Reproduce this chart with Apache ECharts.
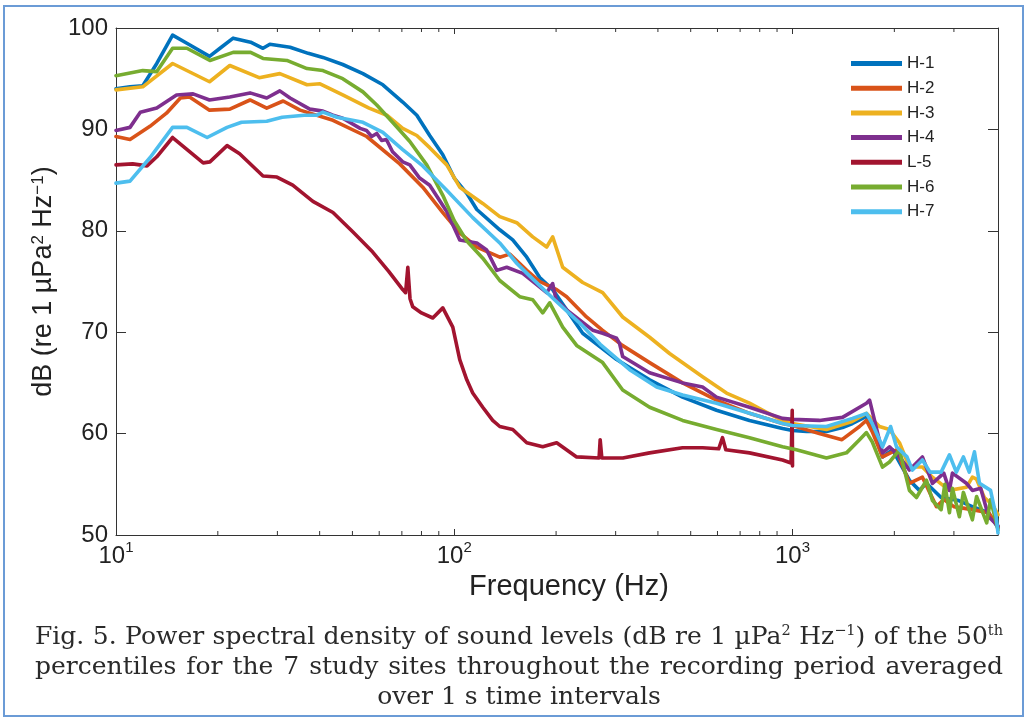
<!DOCTYPE html>
<html>
<head>
<meta charset="utf-8">
<title>PSD</title>
<script src="https://cdn.jsdelivr.net/npm/echarts@6/dist/echarts.min.js"></script>
<style>
  html, body { margin: 0; padding: 0; background: #fff; }
  #wrap { position: relative; width: 1027px; height: 719px; }
  #main { position: absolute; left: 0; top: 0; width: 1027px; height: 719px; }
  #caption {
    position: absolute; left: 35px; top: 621px; width: 968px;
    font-family: 'DejaVu Serif', 'Liberation Serif', serif; font-size: 25px; line-height: 30px;
    color: #2a2a2a;
  }
  #caption .jl { text-align: justify; text-align-last: justify; height: 30px; }
  #caption .cl { text-align: center; height: 30px; }
  #caption sup { font-size: 0.58em; line-height: 0; vertical-align: 0.6em; }
</style>
</head>
<body>
<div id="wrap">
  <div id="main"></div>
  <div id="caption">
    <div class="jl">Fig. 5. Power spectral density of sound levels (dB re 1 µPa<sup>2</sup> Hz<sup>−1</sup>) of the 50<sup>th</sup></div>
    <div class="jl">percentiles for the 7 study sites throughout the recording period averaged</div>
    <div class="cl">over 1 s time intervals</div>
  </div>
</div>
<script>
// site names + colours (matlab default order)
const siteNames = ['H-1', 'H-2', 'H-3', 'H-4', 'L-5', 'H-6', 'H-7'];
const siteColors = ['#0072BD', '#D95319', '#EDB120', '#7E2F8E', '#A2142F', '#77AC30', '#4DBEEE'];

// [frequency Hz, dB]
const h1 = [[10,94.0],[11,94.2],[12,94.3],[13.2,96.5],[14.7,99.3],[16.2,98.5],[18.9,97.2],[20.3,98.0],[22.2,99.0],[25,98.6],[27.2,98.0],[28.5,98.4],[32.7,98.1],[37,97.5],[40.9,97.1],[46.8,96.4],[53.7,95.5],[61.5,94.4],[70.4,92.7],[77.5,91.4],[84.6,89.4],[92.5,87.5],[100,85.2],[108.9,83.7],[116.6,82.1],[136.3,80.1],[148.9,79.1],[163.8,77.4],[178.9,75.4],[195.4,74.2],[214.9,72.2],[239.7,69.9],[302,67.3],[378,65.3],[473,63.6],[596,62.3],[746,61.3],[934,60.5],[1000,60.3],[1100,60.2],[1260,60.2],[1405,60.6],[1504,61.0],[1654,61.7],[1720,60.8],[1845,57.7],[1975,58.4],[2216,55.4],[2372,54.4],[2489,55.1],[2750,53.7],[3100,53.4],[3400,52.8],[3800,52.2],[4050,50.7]];
const h2 = [[10,89.3],[11,89.0],[12.6,90.3],[14.1,91.6],[15.5,93.1],[16.5,93.2],[18.9,91.9],[21.7,92.0],[24.9,92.9],[27.9,92.1],[31.2,92.8],[35,91.9],[43.8,90.9],[55.1,89.3],[69,86.6],[80.7,84.3],[92.5,81.8],[103.8,79.8],[116.6,78.4],[136.3,77.4],[145.9,77.7],[163.8,76.1],[178.9,75.0],[200.8,74.2],[214.9,73.5],[246,71.5],[274,70.2],[314,68.7],[378,67.0],[473,65.0],[596,63.3],[746,62.0],[934,61.0],[1000,60.8],[1200,60.0],[1400,59.4],[1578,60.7],[1654,61.3],[1720,60.2],[1845,57.7],[2029,58.4],[2216,55.1],[2421,55.7],[2664,52.8],[2800,53.5],[3000,52.8],[3400,52.5],[3800,52.2],[4050,50.8]];
const h3 = [[10,93.9],[12,94.2],[14.7,96.5],[18.9,94.7],[21.7,96.3],[26.5,95.1],[30.5,95.5],[36.7,94.4],[40.1,94.5],[46.8,93.4],[56,92.1],[63.2,91.4],[70.4,90.1],[77.5,89.4],[84.6,88.2],[95,86.5],[103.8,84.3],[121.4,82.7],[136.3,81.4],[153,80.8],[170.6,79.4],[187.6,78.4],[195.4,79.4],[209.2,76.4],[239.7,74.9],[274.6,73.9],[314.7,71.5],[378,69.5],[433,67.9],[542,65.6],[638,64.0],[746,63.0],[838,62.1],[934,61.3],[1000,61.0],[1260,60.4],[1500,61.2],[1654,62.0],[1807,60.7],[1935,60.4],[2071,59.1],[2216,56.7],[2421,56.7],[2592,55.7],[2910,54.4],[3266,54.7],[3402,55.7],[3500,55.5],[3690,53.7],[3900,53.0],[4050,52.0]];
const h4 = [[10,89.9],[11,90.2],[11.8,91.7],[13.2,92.1],[15.1,93.4],[16.9,93.5],[18.9,92.9],[21.7,93.2],[24.9,93.6],[27.9,93.1],[30.5,93.8],[32.7,93.1],[37.4,92.0],[40.9,91.8],[43.8,91.4],[46.8,91.1],[52.7,90.1],[55,89.9],[57,89.3],[59,89.6],[61,88.9],[63,89.0],[65.7,87.8],[70.4,86.8],[73.9,86.5],[79,85.2],[84.6,84.5],[95,81.9],[103.8,79.1],[116.6,78.8],[124.7,78.1],[133.6,76.1],[142.9,76.4],[159.4,75.8],[187.6,73.9],[195.4,74.8],[200,73.2],[214.9,72.2],[256.6,70.2],[274.6,69.9],[302,69.4],[308,68.9],[314.7,67.6],[378,66.0],[473,65.0],[542,64.6],[596,63.6],[746,62.6],[934,61.5],[1000,61.4],[1202,61.3],[1405,61.6],[1654,63.0],[1690,63.3],[1845,58.1],[1935,58.7],[2071,57.7],[2216,56.4],[2421,57.7],[2592,55.1],[2800,56.1],[2910,54.4],[2970,56.1],[3266,55.1],[3402,54.4],[3600,54.6],[3800,51.8],[4050,50.9]];
const l5 = [[10,86.5],[11.2,86.6],[12.35,86.4],[13.2,87.3],[14.7,89.2],[16.5,87.8],[18.1,86.7],[18.95,86.8],[21.3,88.4],[23.2,87.6],[27.2,85.4],[29.9,85.3],[33.3,84.5],[38.2,82.9],[43.8,81.8],[50.1,79.9],[57.4,77.9],[64,76.0],[70.4,74.2],[71.8,73.9],[72.9,76.4],[74,73.3],[75.4,72.5],[80,71.9],[86.4,71.4],[92.5,72.4],[99,70.5],[103.8,67.3],[108.9,65.3],[113.4,64.0],[121.4,62.6],[129.9,61.3],[136.3,60.7],[148.9,60.4],[163.8,59.1],[182.6,58.7],[200.8,59.1],[230,57.7],[268,57.6],[270,59.4],[273,57.6],[315,57.6],[378,58.1],[473,58.6],[542,58.6],[605,58.5],[621,59.6],[635,58.4],[746,58.1],[934,57.4],[990,57.1],[998,62.3],[1000,56.8]];
const h6 = [[10,95.3],[12,95.8],[13.2,95.7],[14.7,98.0],[16.2,98.0],[18.95,96.8],[22.2,97.6],[25,97.6],[27.2,97.0],[32,96.8],[36.7,96.0],[40.9,95.8],[46.8,95.0],[53.7,93.7],[59,92.4],[65.7,90.7],[73.9,88.8],[82.9,86.5],[92.5,83.5],[100,81.0],[108.9,79.0],[121.4,77.3],[136.3,75.1],[156.1,73.5],[170.6,73.2],[182.6,71.9],[191.5,72.9],[209.2,70.5],[230,68.7],[274.6,67.0],[314.7,64.3],[378,62.6],[473,61.3],[596,60.4],[746,59.6],[934,58.7],[1027,58.4],[1260,57.6],[1444,58.1],[1578,59.4],[1654,60.1],[1720,59.2],[1845,56.7],[1935,57.2],[2071,58.4],[2216,54.4],[2325,53.7],[2489,55.4],[2592,53.4],[2750,52.5],[2820,55.0],[2910,52.2],[2970,54.6],[3114,51.8],[3200,54.2],[3402,51.5],[3500,53.8],[3750,51.2],[3850,53.5],[4050,50.5]];
const h7 = [[10,84.7],[11,84.9],[12.6,87.2],[14.7,90.2],[16.2,90.2],[18.6,89.2],[21.3,90.2],[23.5,90.7],[27.9,90.8],[31,91.2],[36,91.4],[39.3,91.4],[40.9,91.7],[45,91.2],[53.7,90.7],[61.5,89.7],[70.4,88.0],[80.7,86.4],[95,84.0],[113.4,81.3],[136.3,78.8],[153,76.8],[164,75.8],[195,73.4],[235,70.9],[270,68.8],[330,66.3],[396.6,64.6],[473,63.8],[596,63.0],[746,62.0],[934,61.0],[1000,60.8],[1260,60.7],[1504,61.5],[1654,62.0],[1720,61.0],[1807,59.4],[1845,58.7],[1950,60.7],[2029,58.7],[2180,57.7],[2262,56.4],[2421,57.4],[2550,56.2],[2750,56.2],[2910,57.9],[3050,56.2],[3200,57.7],[3330,56.2],[3450,58.2],[3570,55.1],[3850,54.4],[4000,51.8],[4050,50.2]];
const siteData = [h1, h2, h3, h4, l5, h6, h7];

// axes
const freqMin = 10, freqMax = 4050;
const dbMin = 50, dbMax = 100, dbStep = 10;
const minorTicks = [20, 30, 40, 50, 60, 70, 80, 90, 200, 300, 400, 500, 600, 700, 800, 900, 2000, 3000];

const font = 'Liberation Sans, Arial, sans-serif';
const axisColor = '#333';

const chart = echarts.init(document.getElementById('main'));

const lineSeries = siteNames.map(function (name, i) {
  return {
    name: name,
    type: 'line',
    data: siteData[i],
    symbol: 'none',
    color: siteColors[i],
    lineStyle: { width: 3.6, color: siteColors[i], join: 'round', cap: 'round' },
    clip: true,
    silent: true,
    z: 3
  };
});

// small log ticks (2..9 per decade) on bottom and top edges
const minorSeries = {
  type: 'custom',
  silent: true,
  clip: false,
  z: 4,
  data: minorTicks.map(function (f) { return [f, dbMin]; }),
  renderItem: function (params, api) {
    const f = api.value(0);
    const b = api.coord([f, dbMin]);
    const t = api.coord([f, dbMax]);
    const st = { stroke: axisColor, lineWidth: 1 };
    return {
      type: 'group',
      children: [
        { type: 'line', shape: { x1: b[0], y1: b[1], x2: b[0], y2: b[1] - 4 }, style: st },
        { type: 'line', shape: { x1: t[0], y1: t[1], x2: t[0], y2: t[1] + 4 }, style: st }
      ]
    };
  }
};

chart.setOption({
  animation: false,
  backgroundColor: '#fff',
  textStyle: { fontFamily: font },
  grid: { left: 116, top: 28, right: 29, bottom: 184, containLabel: false },
  legend: {
    data: siteNames,
    orient: 'vertical',
    left: 846,
    top: 49,
    icon: 'rect',
    itemWidth: 51,
    itemHeight: 5,
    itemGap: 5.7,
    textStyle: { fontSize: 17, color: '#222', fontFamily: font, lineHeight: 19 },
    selectedMode: false
  },
  xAxis: [{
    type: 'log',
    logBase: 10,
    min: freqMin,
    max: freqMax,
    name: 'Frequency (Hz)',
    nameLocation: 'middle',
    nameGap: 30,
    nameTextStyle: { fontSize: 29, color: '#222', fontFamily: font, padding: [0, 0, 0, 24] },
    axisLine: { lineStyle: { color: axisColor, width: 1 } },
    axisTick: { inside: true, length: 6, lineStyle: { color: axisColor } },
    splitLine: { show: false },
    axisLabel: {
      color: '#222',
      margin: 5,
      showMaxLabel: false,
      formatter: function (v) {
        const e = Math.round(Math.log10(v));
        if (Math.abs(Math.pow(10, e) - v) > 1e-6) return '';
        return '{base|10}{sup|' + e + '}';
      },
      rich: {
        base: { fontSize: 24, lineHeight: 28, verticalAlign: 'bottom', color: '#222', fontFamily: font },
        sup: { fontSize: 15, lineHeight: 15, verticalAlign: 'top', color: '#222', fontFamily: font }
      }
    }
  }, {
    type: 'log',
    logBase: 10,
    min: freqMin,
    max: freqMax,
    position: 'top',
    axisLine: { lineStyle: { color: axisColor, width: 1 } },
    axisTick: { inside: true, length: 6, lineStyle: { color: axisColor } },
    axisLabel: { show: false },
    splitLine: { show: false }
  }],
  yAxis: [{
    type: 'value',
    min: dbMin,
    max: dbMax,
    interval: dbStep,
    name: 'dB (re 1 µPa{sup|2} Hz{sup|−1})',
    nameLocation: 'middle',
    nameGap: 58,
    nameTextStyle: {
      fontSize: 27, color: '#222', fontFamily: font,
      rich: { sup: { fontSize: 17, verticalAlign: 'top', color: '#222', fontFamily: font } }
    },
    axisLine: { show: true, lineStyle: { color: axisColor, width: 1 } },
    axisTick: { show: true, inside: true, length: 10, lineStyle: { color: axisColor } },
    axisLabel: { fontSize: 24, color: '#222', margin: 8, fontFamily: font },
    splitLine: { show: false }
  }, {
    type: 'value',
    min: dbMin,
    max: dbMax,
    interval: dbStep,
    position: 'right',
    axisLine: { show: true, lineStyle: { color: axisColor, width: 1 } },
    axisTick: { show: true, inside: true, length: 10, lineStyle: { color: axisColor } },
    axisLabel: { show: false },
    splitLine: { show: false }
  }],
  graphic: [{
    type: 'rect',
    silent: true,
    shape: { x: 4, y: 6, width: 1019, height: 710 },
    style: { fill: 'none', stroke: '#6b9bd6', lineWidth: 2 }
  }],
  series: lineSeries.concat([minorSeries])
});
</script>
</body>
</html>
